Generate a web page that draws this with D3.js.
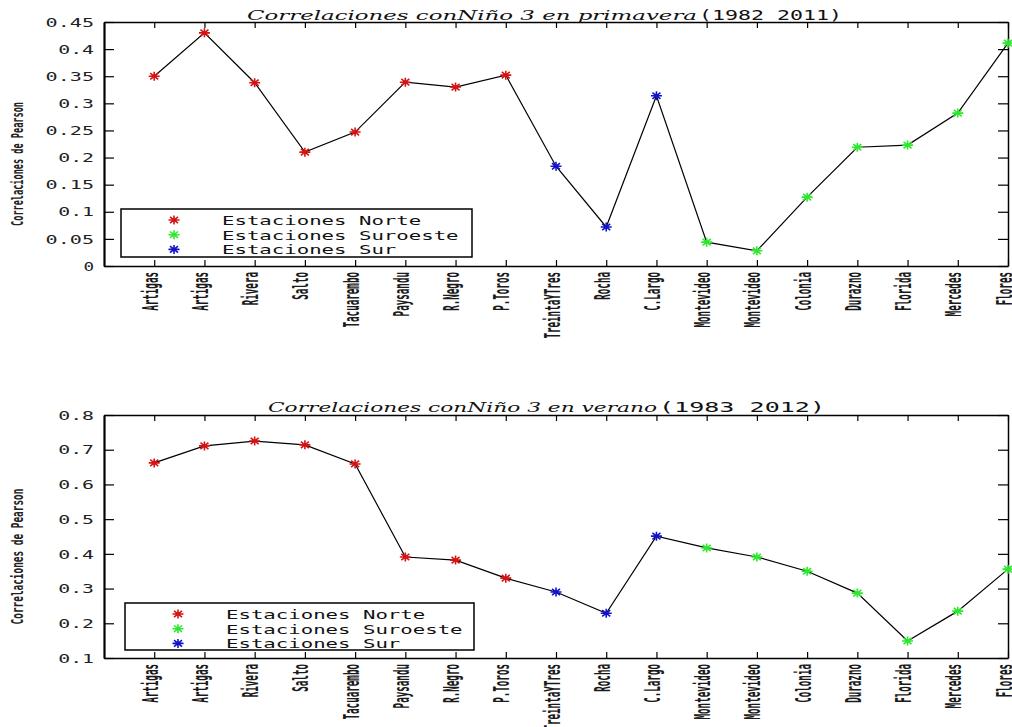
<!DOCTYPE html>
<html>
<head>
<meta charset="utf-8">
<script src="https://cdn.jsdelivr.net/npm/d3@7"></script>
<style>
  body { margin: 0; background: #fff; }
  svg { display: block; }
</style>
</head>
<body>
<div id="chart"></div>
<script>
// ---- data ----
let stations = ["Artigas","Artigas","Rivera","Salto","Tacuarembo","Paysandu","R.Negro","P.Toros",
  "TreintaYTres","Rocha","C.Largo","Montevideo","Montevideo","Colonia","Durazno","Florida","Mercedes","Flores"];
let regions = ["Norte","Norte","Norte","Norte","Norte","Norte","Norte","Norte",
  "Sur","Sur","Sur","Suroeste","Suroeste","Suroeste","Suroeste","Suroeste","Suroeste","Suroeste"];
let corrPrimavera = [0.350,0.430,0.338,0.210,0.247,0.339,0.330,0.352,0.184,0.072,0.314,0.044,0.028,0.127,0.219,0.223,0.282,0.411];
let corrVerano = [0.662,0.711,0.725,0.714,0.659,0.391,0.382,0.330,0.290,0.229,0.451,0.417,0.391,0.350,0.287,0.149,0.235,0.356];
let yTicksPrimavera = [0,0.05,0.1,0.15,0.2,0.25,0.3,0.35,0.4,0.45];
let yTicksVerano = [0.1,0.2,0.3,0.4,0.5,0.6,0.7,0.8];
let legendLabels = ["Estaciones Norte","Estaciones Suroeste","Estaciones Sur"];
let legendKeys = ["Norte","Suroeste","Sur"];

let colors = {Norte:"#d41414", Suroeste:"#2ee82e", Sur:"#1212c8"};

let width = 1012, height = 727;
let svg = d3.select("#chart").append("svg").attr("width", width).attr("height", height);

let left = 104, right = 1008;

// one config per panel
let panels = [
  {values: corrPrimavera, ticks: yTicksPrimavera, domain: [0,0.45], top: 22, bottom: 266,
   title: "Correlaciones conNiño 3 en primavera", years: "(1982 2011)", titleX: 247, titleW: 450, yearsW: 145, titleY: 20,
   legend: {x: 121, y: 209, w: 351, h: 48}, ylabelLen: 124},
  {values: corrVerano, ticks: yTicksVerano, domain: [0.1,0.8], top: 415, bottom: 658,
   title: "Correlaciones conNiño 3 en verano", years: "(1983 2012)", titleX: 268, titleW: 389, yearsW: 168, titleY: 412,
   legend: {x: 125, y: 603, w: 349, h: 47}, ylabelLen: 136}
];

let xScale = d3.scaleLinear().domain([0, stations.length]).range([left, right]);
let idx = d3.range(1, stations.length + 1);

function star(g, x, y, c) {
  let a = 5.5, b = 4.5, d = 4, e = 3.2;
  g.append("path")
    .attr("d", `M${x-a},${y}L${x+a},${y}M${x},${y-b}L${x},${y+b}M${x-d},${y-e}L${x+d},${y+e}M${x-d},${y+e}L${x+d},${y-e}`)
    .attr("stroke", c).attr("stroke-width", 1.6).attr("fill", "none");
}

// squeeze a rotated text along its own direction to a given length
function squeeze(sel, pre, len) {
  sel.each(function(d) {
    let natural = this.getComputedTextLength();
    let target = typeof len === "function" ? len(d) : len;
    d3.select(this).attr("transform", `${pre} scale(${target / natural},1)`);
  });
}

panels.forEach(function(p) {
  let yScale = d3.scaleLinear().domain(p.domain).range([p.bottom, p.top]);
  let g = svg.append("g");

  // axes (box with inward ticks)
  let xb = g.append("g").attr("transform", `translate(0,${p.bottom})`)
    .call(d3.axisBottom(xScale).tickValues(idx).tickSize(-6).tickSizeOuter(0).tickPadding(6)
      .tickFormat(function(i){ return stations[i-1]; }));
  xb.selectAll("text")
    .style("font-family", "'DejaVu Sans Mono'").style("font-size", "22px").style("font-weight", "bold")
    .attr("fill", "#1a1a1a")
    .attr("text-anchor", "end").attr("dy", null).attr("y", null);
  squeeze(xb.selectAll("text"), "translate(3,6) rotate(-90)", function(d){ return stations[d-1].length * 5.55; });

  g.append("g").attr("transform", `translate(0,${p.top})`)
    .call(d3.axisTop(xScale).tickValues(idx).tickSize(-6).tickSizeOuter(0).tickFormat(""));

  let yl = g.append("g").attr("transform", `translate(${left},0)`)
    .call(d3.axisLeft(yScale).tickValues(p.ticks).tickSize(-10).tickSizeOuter(0).tickPadding(10)
      .tickFormat(function(d){ return String(+d.toFixed(2)); }));
  yl.select(".domain").attr("stroke-width", 2.2);
  yl.selectAll("text")
    .style("font-family", "'DejaVu Sans Mono'").style("font-size", "13px").attr("fill", "#222")
    .attr("textLength", function(d){ let s = String(+d.toFixed(2)); return s.length * 12.6 - 2; })
    .attr("lengthAdjust", "spacingAndGlyphs");

  g.append("g").attr("transform", `translate(${right},0)`)
    .call(d3.axisRight(yScale).tickValues(p.ticks).tickSize(-10).tickSizeOuter(0).tickFormat(""));

  g.selectAll(".domain").attr("stroke", "#000");
  g.selectAll(".domain").filter(function(){ return this.parentNode !== yl.node(); }).attr("stroke-width", 1.5);
  g.selectAll(".tick line").attr("stroke", "#000").attr("stroke-width", 1.2);

  // title
  g.append("text").attr("x", p.titleX).attr("y", p.titleY)
    .style("font-family", "'DejaVu Serif'").style("font-style", "italic").style("font-size", "12px")
    .attr("textLength", p.titleW).attr("lengthAdjust", "spacingAndGlyphs").attr("fill", "#111")
    .text(p.title);
  g.append("text").attr("x", p.titleX + p.titleW + 2).attr("y", p.titleY)
    .style("font-family", "'DejaVu Sans Mono'").style("font-size", "14px")
    .attr("textLength", p.yearsW - 2).attr("lengthAdjust", "spacingAndGlyphs").attr("fill", "#111")
    .text(p.years);

  // y label
  let ylab = g.append("text")
    .attr("text-anchor", "middle")
    .style("font-family", "'DejaVu Sans Mono'").style("font-size", "16px").style("font-weight", "bold")
    .attr("fill", "#222")
    .text("Correlaciones de Pearson");
  squeeze(ylab, `translate(23,${(p.top + p.bottom) / 2 + 20}) rotate(-90)`, p.ylabelLen);

  // line
  let line = d3.line().x(function(d, i){ return xScale(i + 1); }).y(function(d){ return yScale(d); });
  g.append("path").datum(p.values).attr("d", line)
    .attr("fill", "none").attr("stroke", "#000").attr("stroke-width", 1.2);

  // markers
  let mk = g.append("g");
  p.values.forEach(function(v, i){ star(mk, xScale(i + 1), yScale(v), colors[regions[i]]); });

  // legend
  let L = p.legend;
  let lg = g.append("g");
  lg.append("rect").attr("x", L.x).attr("y", L.y).attr("width", L.w).attr("height", L.h)
    .attr("fill", "#fff").attr("stroke", "#000").attr("stroke-width", 1.5);
  legendLabels.forEach(function(t, i){
    let cy = L.y + 11 + i * 14.7;
    star(lg, L.x + 53, cy, colors[legendKeys[i]]);
    lg.append("text").attr("x", L.x + 101).attr("y", cy + 5)
      .style("font-family", "'DejaVu Sans Mono'").style("font-size", "13px").attr("fill", "#111")
      .attr("textLength", t.length * 12.45).attr("lengthAdjust", "spacingAndGlyphs")
      .text(t);
  });
});
</script>
</body>
</html>
